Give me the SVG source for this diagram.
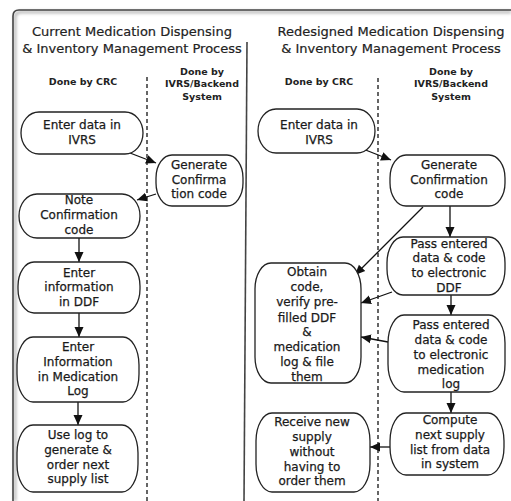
<svg xmlns="http://www.w3.org/2000/svg" width="511" height="501" viewBox="0 0 511 501">
<style>
.title{font-family:"DejaVu Sans",Verdana,sans-serif;font-size:13px;fill:#222;stroke:#222;stroke-width:0.2;text-anchor:middle}
.hdr{font-family:"DejaVu Sans",Verdana,sans-serif;font-size:9.5px;font-weight:bold;fill:#222;text-anchor:middle}
.nt{font-family:"DejaVu Sans",Verdana,sans-serif;font-size:12px;fill:#1a1a1a;stroke:#1a1a1a;stroke-width:0.25;text-anchor:middle}
.box{fill:#fff;stroke:#222;stroke-width:1.3}
.frame{fill:none;stroke:#444;stroke-width:1.6}
.lane{fill:none;stroke:#333;stroke-width:1.5;stroke-dasharray:4 3}
.conn{fill:none;stroke:#111;stroke-width:1.3;marker-end:url(#ah)}
</style>
<defs>
<marker id="ah" markerUnits="userSpaceOnUse" markerWidth="10" markerHeight="10" viewBox="0 0 10 10" refX="10" refY="5" orient="auto">
<path d="M0,0.5 L10,5 L0,9.5 Z" fill="#111"/>
</marker>
<filter id="sh" x="-5%" y="-5%" width="110%" height="110%">
<feGaussianBlur stdDeviation="1.5"/>
</filter>
</defs>
<rect width="511" height="501" fill="#fff"/>
<g id="frame">
<path d="M15 501 L15 18 Q15 12 21 12 L511 12" fill="none" stroke="#bbb" stroke-width="3" filter="url(#sh)"/>
<path class="frame" d="M13 501 L13 16 Q13 10 19 10 L511 10"/>
<path class="frame" d="M247 42 L244 501"/>
</g>
<g id="titles">
<text class="title" x="132" y="36">Current Medication Dispensing</text>
<text class="title" x="132" y="53">&amp; Inventory Management Process</text>
<text class="title" x="391" y="36">Redesigned Medication Dispensing</text>
<text class="title" x="391" y="53">&amp; Inventory Management Process</text>
<text class="hdr" x="83" y="85">Done by CRC</text>
<text class="hdr" x="202" y="75">Done by</text>
<text class="hdr" x="202" y="87">IVRS/Backend</text>
<text class="hdr" x="202" y="100">System</text>
<text class="hdr" x="319" y="85">Done by CRC</text>
<text class="hdr" x="451" y="75">Done by</text>
<text class="hdr" x="451" y="87">IVRS/Backend</text>
<text class="hdr" x="451" y="100">System</text>
</g>
<g id="lanes">
<path class="lane" d="M147 77 L147 501"/>
<path class="lane" d="M378 78 L378 501"/>
</g>
<g id="connectors">
<path class="conn" d="M130 153 L156 163"/>
<path class="conn" d="M156 194 L137 200"/>
<path class="conn" d="M79 238 L79 262"/>
<path class="conn" d="M79 313 L79 337"/>
<path class="conn" d="M78 402 L78 425"/>
<path class="conn" d="M363 149 L391 160"/>
<path class="conn" d="M450 206 L450 237"/>
<path class="conn" d="M423 207 L355 275"/>
<path class="conn" d="M392 292 L361 303"/>
<path class="conn" d="M451 295 L451 315"/>
<path class="conn" d="M388 342 L361 337"/>
<path class="conn" d="M451 392 L451 413"/>
<path class="conn" d="M390 447 L370 447"/>
</g>
<g id="n-enter-ivrs-cur">
<rect class="box" x="21" y="112" width="122" height="42" rx="18" ry="21"/>
<text class="nt" x="82" y="129">Enter data in</text>
<text class="nt" x="82" y="144">IVRS</text>
</g>
<g id="n-generate-cur">
<rect class="box" x="156" y="155" width="87" height="51" rx="16" ry="23"/>
<text class="nt" x="199" y="169">Generate</text>
<text class="nt" x="199" y="184">Confirma</text>
<text class="nt" x="199" y="198">tion code</text>
</g>
<g id="n-note-cur">
<rect class="box" x="19" y="194" width="121" height="44" rx="18" ry="22"/>
<text class="nt" x="79" y="204">Note</text>
<text class="nt" x="79" y="219">Confirmation</text>
<text class="nt" x="79" y="234">code</text>
</g>
<g id="n-ddf-cur">
<rect class="box" x="18" y="262" width="122" height="51" rx="16" ry="24"/>
<text class="nt" x="79" y="277">Enter</text>
<text class="nt" x="79" y="291">information</text>
<text class="nt" x="79" y="306">in DDF</text>
</g>
<g id="n-log-cur">
<rect class="box" x="17" y="337" width="122" height="65" rx="16" ry="28"/>
<text class="nt" x="78" y="351">Enter</text>
<text class="nt" x="78" y="366">Information</text>
<text class="nt" x="78" y="381">in Medication</text>
<text class="nt" x="78" y="395">Log</text>
</g>
<g id="n-uselog-cur">
<rect class="box" x="17" y="425" width="121" height="67" rx="16" ry="28"/>
<text class="nt" x="78" y="439">Use log to</text>
<text class="nt" x="78" y="454">generate &amp;</text>
<text class="nt" x="78" y="469">order next</text>
<text class="nt" x="78" y="483">supply list</text>
</g>
<g id="n-enter-ivrs-new">
<rect class="box" x="258" y="109" width="117" height="44" rx="18" ry="22"/>
<text class="nt" x="319" y="129">Enter data in</text>
<text class="nt" x="319" y="144">IVRS</text>
</g>
<g id="n-generate-new">
<rect class="box" x="390" y="155" width="115" height="51" rx="16" ry="23"/>
<text class="nt" x="449" y="169">Generate</text>
<text class="nt" x="449" y="184">Confirmation</text>
<text class="nt" x="449" y="198">code</text>
</g>
<g id="n-pass-ddf-new">
<rect class="box" x="387" y="237" width="118" height="58" rx="16" ry="26"/>
<text class="nt" x="449" y="248">Pass entered</text>
<text class="nt" x="449" y="262">data &amp; code</text>
<text class="nt" x="449" y="277">to electronic</text>
<text class="nt" x="449" y="292">DDF</text>
</g>
<g id="n-obtain-new">
<rect class="box" x="255" y="263" width="106" height="120" rx="16" ry="26"/>
<text class="nt" x="307" y="276">Obtain</text>
<text class="nt" x="307" y="291">code,</text>
<text class="nt" x="307" y="306">verify pre-</text>
<text class="nt" x="307" y="322">filled DDF</text>
<text class="nt" x="307" y="336">&amp;</text>
<text class="nt" x="307" y="351">medication</text>
<text class="nt" x="307" y="366">log &amp; file</text>
<text class="nt" x="307" y="381">them</text>
</g>
<g id="n-pass-log-new">
<rect class="box" x="388" y="315" width="117" height="77" rx="16" ry="28"/>
<text class="nt" x="451" y="329">Pass entered</text>
<text class="nt" x="451" y="344">data &amp; code</text>
<text class="nt" x="451" y="359">to electronic</text>
<text class="nt" x="451" y="374">medication</text>
<text class="nt" x="451" y="388">log</text>
</g>
<g id="n-compute-new">
<rect class="box" x="390" y="413" width="114" height="62" rx="16" ry="28"/>
<text class="nt" x="450" y="424">Compute</text>
<text class="nt" x="450" y="439">next supply</text>
<text class="nt" x="450" y="454">list from data</text>
<text class="nt" x="450" y="468">in system</text>
</g>
<g id="n-receive-new">
<rect class="box" x="256" y="413" width="114" height="79" rx="16" ry="28"/>
<text class="nt" x="312" y="426">Receive new</text>
<text class="nt" x="312" y="441">supply</text>
<text class="nt" x="312" y="456">without</text>
<text class="nt" x="312" y="471">having to</text>
<text class="nt" x="312" y="485">order them</text>
</g>
</svg>
